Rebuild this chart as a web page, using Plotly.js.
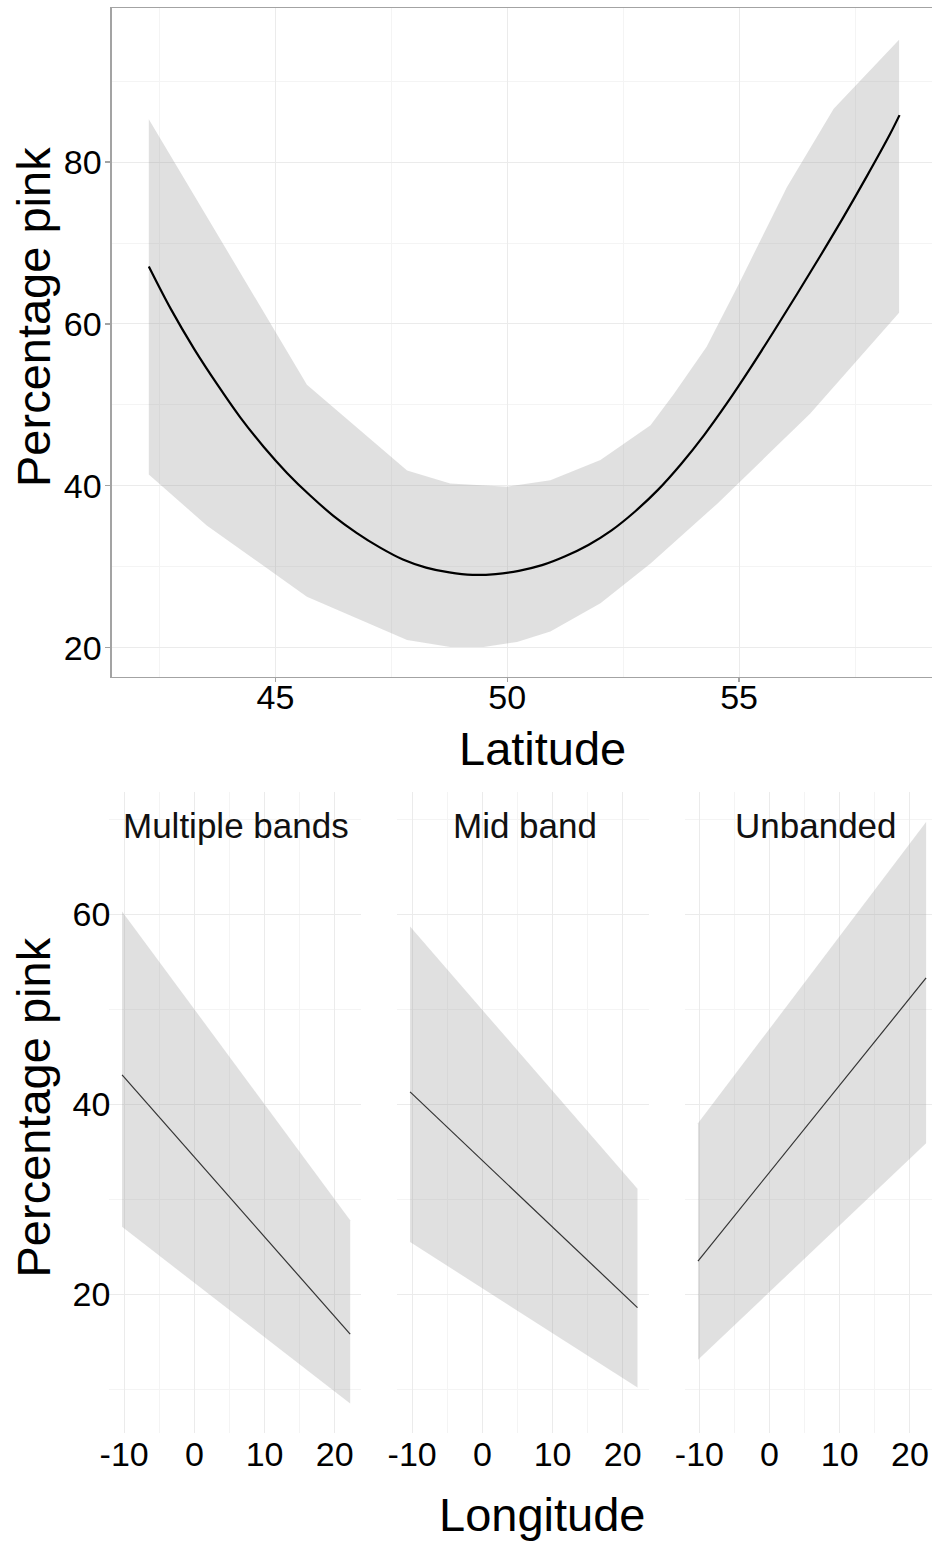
<!DOCTYPE html>
<html>
<head>
<meta charset="utf-8">
<script src="https://cdn.plot.ly/plotly-3.0.1.min.js"></script>
<style>html,body{margin:0;padding:0;background:#fff;}#chart{width:932px;height:1541px;}</style>
</head>
<body>
<div id="chart"></div>
<script>
// ---- Top panel: Percentage pink vs Latitude ----
const fitLat = [42.27, 42.75, 43.25, 43.75, 44.25, 44.75, 45.25, 45.75, 46.25, 46.75, 47.25, 47.75, 48.25, 48.75, 49.25, 49.75, 50.25, 50.75, 51.25, 51.75, 52.25, 52.75, 53.25, 53.75, 54.25, 54.75, 55.25, 55.75, 56.25, 56.75, 57.25, 57.75, 58.25, 58.46];
const fitPink = [67.1, 61.8, 56.9, 52.5, 48.4, 44.8, 41.6, 38.8, 36.3, 34.2, 32.4, 30.9, 29.9, 29.3, 29.0, 29.1, 29.5, 30.2, 31.3, 32.7, 34.5, 36.8, 39.5, 42.7, 46.3, 50.3, 54.6, 59.1, 63.7, 68.4, 73.2, 78.2, 83.4, 85.8];
const upperLat = [42.27, 45.68, 47.84, 48.77, 50.0, 50.93, 52.01, 53.09, 53.6, 54.3, 55.0, 56.03, 57.04, 58.45];
const upperPink = [85.3, 52.5, 41.9, 40.3, 39.9, 40.7, 43.2, 47.5, 51.4, 57.2, 65.0, 76.9, 86.6, 95.1];
const lowerLat = [42.27, 43.52, 45.68, 47.84, 48.77, 49.49, 50.21, 50.93, 52.01, 53.09, 54.53, 56.53, 58.45];
const lowerPink = [41.4, 35.1, 26.3, 20.95, 20.1, 20.1, 20.7, 22.0, 25.5, 30.4, 37.8, 48.9, 61.4];

// ---- Bottom panels: Percentage pink vs Longitude, by banding ----
const facetNames = ['Multiple bands', 'Mid band', 'Unbanded'];
const facetLon = [[-10.3, 22.2], [-10.3, 22.1], [-10.2, 22.3]];
const facetFit = [[43.1, 15.8], [41.3, 18.6], [23.5, 53.3]];
const facetUpper = [[60.3, 27.8], [58.7, 31.1], [38.0, 69.7]];
const facetLower = [[27.1, 8.5], [25.5, 10.2], [13.1, 35.9]];
const lonTickVals = [-10, 0, 10, 20];
const lonTickText = ['-10', '0', '10', '20'];

const FONT = 'Liberation Sans, Arial, Helvetica, sans-serif';
const W = 932, H = 1541;
const px = v => v / W;
const py = v => 1 - v / H;

const ribbonFill = 'rgba(153,153,153,0.3)';
const traces = [];

// top ribbon
traces.push({
  x: upperLat.concat(lowerLat.slice().reverse()),
  y: upperPink.concat(lowerPink.slice().reverse()),
  xaxis: 'x', yaxis: 'y', type: 'scatter', mode: 'lines',
  fill: 'toself', fillcolor: ribbonFill, line: {width: 0}, hoverinfo: 'skip'
});
traces.push({
  x: fitLat, y: fitPink, xaxis: 'x', yaxis: 'y', type: 'scatter', mode: 'lines',
  line: {color: '#000000', width: 2.2, shape: 'spline', smoothing: 1}
});

const axN = ['2', '3', '4'];
for (let i = 0; i < 3; i++) {
  const lon = facetLon[i];
  traces.push({
    x: [lon[0], lon[1], lon[1], lon[0]],
    y: [facetUpper[i][0], facetUpper[i][1], facetLower[i][1], facetLower[i][0]],
    xaxis: 'x' + axN[i], yaxis: 'y' + axN[i], type: 'scatter', mode: 'lines',
    fill: 'toself', fillcolor: ribbonFill, line: {width: 0}, hoverinfo: 'skip'
  });
  traces.push({
    x: lon, y: facetFit[i],
    xaxis: 'x' + axN[i], yaxis: 'y' + axN[i], type: 'scatter', mode: 'lines',
    line: {color: '#333333', width: 1.2}
  });
}

const GRID = '#ebebeb', MINOR = '#f4f4f4', LINE = '#a3a3a3';
const tickFont = {family: FONT, size: 34, color: '#000'};

function bottomX(domain, range, anchor) {
  return {domain: domain, range: range, anchor: anchor, tickmode: 'array', tickvals: lonTickVals, ticktext: lonTickText,
    showgrid: true, gridcolor: GRID, gridwidth: 1,
    minor: {tickmode: 'linear', tick0: 0, dtick: 5, showgrid: true, gridcolor: MINOR, gridwidth: 1},
    zeroline: false, showline: false, ticks: '', tickfont: tickFont, ticklabelstandoff: -2, fixedrange: true};
}
function bottomY(show, anchor) {
  return {domain: [py(1433.3), py(791.7)], range: [5.37, 72.9], anchor: anchor, tick0: 0, dtick: 20, showgrid: true, gridcolor: GRID, gridwidth: 1,
    minor: {dtick: 10, showgrid: true, gridcolor: MINOR, gridwidth: 1},
    zeroline: false, showline: false, ticks: '', showticklabels: show, tickfont: tickFont, ticklabelstandoff: -2, fixedrange: true};
}

const layout = {
  width: W, height: H,
  margin: {l: 0, r: 0, t: 0, b: 0, pad: 0},
  paper_bgcolor: '#ffffff', plot_bgcolor: '#ffffff',
  showlegend: false,
  xaxis: {domain: [px(111.7), 1], range: [41.47, 59.16], anchor: 'y', tick0: 0, dtick: 5,
    showgrid: true, gridcolor: GRID, gridwidth: 1,
    minor: {dtick: 2.5, showgrid: true, gridcolor: MINOR, gridwidth: 1},
    zeroline: false, showline: true, linecolor: LINE, linewidth: 1.3, mirror: true,
    ticks: 'outside', ticklen: 4, tickcolor: LINE, tickwidth: 1.3, tickfont: tickFont, ticklabelstandoff: -14, fixedrange: true},
  yaxis: {domain: [py(676.7), py(8.3)], range: [16.42, 99.0], anchor: 'x', tick0: 0, dtick: 20,
    showgrid: true, gridcolor: GRID, gridwidth: 1,
    minor: {dtick: 10, showgrid: true, gridcolor: MINOR, gridwidth: 1},
    zeroline: false, showline: true, linecolor: LINE, linewidth: 1.3,
    ticks: 'outside', ticklen: 5, tickcolor: LINE, tickwidth: 1.3, tickfont: tickFont, ticklabelstandoff: -3, fixedrange: true},
  xaxis2: bottomX([px(109.3), px(360.7)], [-12.12, 23.7], 'y2'),
  xaxis3: bottomX([px(397.3), px(648.7)], [-12.12, 23.7], 'y3'),
  xaxis4: bottomX([px(684.5), 1], [-12.12, 23.14], 'y4'),
  yaxis2: bottomY(true, 'x2'),
  yaxis3: Object.assign(bottomY(false, 'x3'), {matches: 'y2'}),
  yaxis4: Object.assign(bottomY(false, 'x4'), {matches: 'y2'}),
  annotations: [
    {text: 'Percentage pink', xref: 'paper', yref: 'paper', x: px(33), y: py(317), xanchor: 'center', yanchor: 'middle',
     textangle: -90, showarrow: false, font: {family: FONT, size: 47, color: '#000'}},
    {text: 'Latitude', xref: 'paper', yref: 'paper', x: px(542.5), y: py(748), xanchor: 'center', yanchor: 'middle',
     showarrow: false, font: {family: FONT, size: 47, color: '#000'}},
    {text: 'Percentage pink', xref: 'paper', yref: 'paper', x: px(33), y: py(1107.5), xanchor: 'center', yanchor: 'middle',
     textangle: -90, showarrow: false, font: {family: FONT, size: 47, color: '#000'}},
    {text: 'Longitude', xref: 'paper', yref: 'paper', x: px(541.5), y: py(1514), xanchor: 'center', yanchor: 'middle',
     showarrow: false, font: {family: FONT, size: 47, color: '#000'}},
    {text: facetNames[0], xref: 'paper', yref: 'paper', x: px(235.5), y: py(825), xanchor: 'center', yanchor: 'middle',
     showarrow: false, font: {family: FONT, size: 35, color: '#111'}},
    {text: facetNames[1], xref: 'paper', yref: 'paper', x: px(524.5), y: py(825), xanchor: 'center', yanchor: 'middle',
     showarrow: false, font: {family: FONT, size: 35, color: '#111'}},
    {text: facetNames[2], xref: 'paper', yref: 'paper', x: px(816), y: py(825), xanchor: 'center', yanchor: 'middle',
     showarrow: false, font: {family: FONT, size: 35, color: '#111'}}
  ]
};

Plotly.newPlot('chart', traces, layout, {displayModeBar: false, staticPlot: true});
</script>
</body>
</html>
